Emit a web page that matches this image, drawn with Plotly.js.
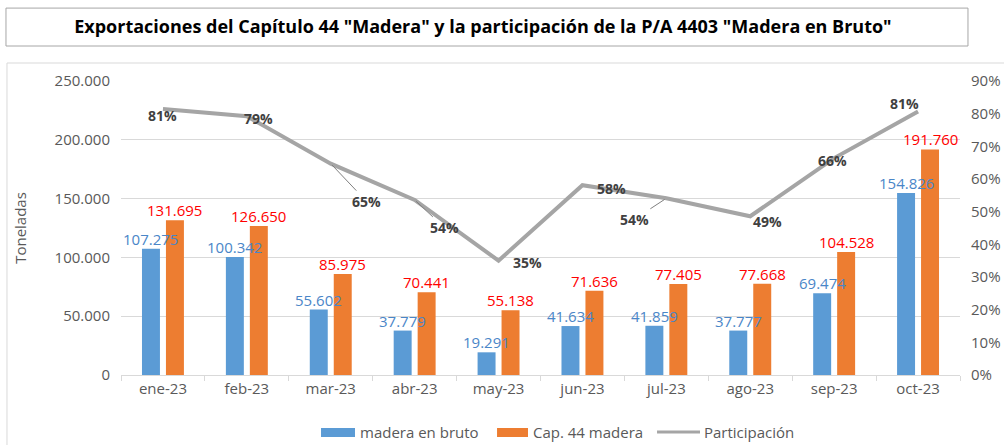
<!DOCTYPE html>
<html>
<head>
<meta charset="utf-8">
<script src="https://cdn.plot.ly/plotly-3.0.1.min.js"></script>
<style>html,body{margin:0;padding:0;background:#fff;}#chart{width:1004px;height:445px;}</style>
</head>
<body>
<div id="chart"></div>
<script>
// ---- data ----
const categories = ['ene-23','feb-23','mar-23','abr-23','may-23','jun-23','jul-23','ago-23','sep-23','oct-23'];
const maderaBruto = [107275, 100342, 55602, 37779, 19291, 41634, 41859, 37777, 69474, 154826];
const cap44 = [131695, 126650, 85975, 70441, 55138, 71636, 77405, 77668, 104528, 191760];
const participacion = [0.814, 0.792, 0.647, 0.536, 0.350, 0.581, 0.541, 0.486, 0.664, 0.807];
const seriesNames = ['madera en bruto', 'Cap. 44 madera', 'Participación'];
const chartTitle = 'Exportaciones del Capítulo 44 "Madera" y la participación de la P/A 4403 "Madera en Bruto"';

// label placement offsets (pixels) for the percentage labels: [dx, dy(down), leader]
const pctOffsets = [[0,6,false],[12,2,false],[36,38,true],[30,28,true],[29,2,false],[29,3,false],[-32,21,true],[17,5,false],[-2,2,false],[-14,-8,false]];

const FONT = 'Open Sans, sans-serif';
const GRAY = '#595959';

function fmtThousands(n) {
  return String(n).replace(/\B(?=(\d{3})+(?!\d))/g, '.');
}

const traces = [
  {
    type: 'bar', name: seriesNames[0], x: categories, y: maderaBruto,
    marker: {color: '#5b9bd5'}, hoverinfo: 'none', showlegend: false
  },
  {
    type: 'bar', name: seriesNames[1], x: categories, y: cap44,
    marker: {color: '#ed7d31'}, hoverinfo: 'none', showlegend: false
  },
  {
    type: 'scatter', mode: 'lines', name: seriesNames[2], x: categories, y: participacion,
    yaxis: 'y2', line: {color: '#a5a5a5', width: 4}, cliponaxis: false, hoverinfo: 'none', showlegend: false
  }
];

const annotations = [];
// bar value labels (drawn above all bars)
maderaBruto.forEach((v, i) => annotations.push({
  xref: 'x', yref: 'y', x: categories[i], y: v, xshift: -12, yshift: -2,
  text: fmtThousands(v), showarrow: false, xanchor: 'center', yanchor: 'bottom',
  font: {family: FONT, size: 15, color: '#4a86c8'}
}));
cap44.forEach((v, i) => annotations.push({
  xref: 'x', yref: 'y', x: categories[i], y: v, xshift: 12, yshift: -2,
  text: fmtThousands(v), showarrow: false, xanchor: 'center', yanchor: 'bottom',
  font: {family: FONT, size: 15, color: '#ff0000'}
}));
// percentage labels
participacion.forEach((v, i) => {
  const [dx, dy, leader] = pctOffsets[i];
  const a = {
    xref: 'x', yref: 'y2', x: categories[i], y: v,
    text: Math.round(v * 100) + '%',
    font: {family: FONT, size: 14, color: '#404040', weight: 'bold'},
    xanchor: 'center', yanchor: 'middle'
  };
  if (leader) {
    a.showarrow = true; a.ax = dx; a.ay = dy; a.arrowhead = 0; a.arrowwidth = 1;
    a.arrowcolor = '#7f7f7f'; a.standoff = 2; a.startstandoff = 0;
  } else {
    a.showarrow = false; a.xshift = dx; a.yshift = -dy;
  }
  annotations.push(a);
});

// custom legend (Excel-style wide swatches)
const legendY = -0.1939;
const legendText = [[0.2825, seriesNames[0]], [0.4887, seriesNames[1]], [0.6925, seriesNames[2]]];
legendText.forEach(([x, t]) => annotations.push({
  xref: 'paper', yref: 'paper', x: x, y: legendY, text: t, showarrow: false,
  xanchor: 'left', yanchor: 'middle', font: {family: FONT, size: 15, color: GRAY}
}));

const layout = {
  width: 1004, height: 445,
  margin: {l: 121, r: 44, t: 81, b: 70},
  paper_bgcolor: '#ffffff', plot_bgcolor: '#ffffff',
  separators: ',.',
  font: {family: FONT, color: GRAY, size: 15},
  title: {
    text: '<b>' + chartTitle + '</b>',
    font: {family: FONT, size: 18, color: '#000000'},
    x: 0.481, xref: 'container', xanchor: 'center',
    y: 0.939, yref: 'container', yanchor: 'middle'
  },
  barmode: 'group', bargap: 0.4286, bargroupgap: 0.25,
  xaxis: {
    type: 'category', showgrid: false, showline: true, linecolor: '#d9d9d9', linewidth: 1,
    ticks: 'outside', tickson: 'boundaries', ticklen: 5, tickcolor: '#d9d9d9',
    tickfont: {size: 15, color: GRAY}, zeroline: false
  },
  yaxis: {
    range: [0, 250000], dtick: 50000, tickformat: ',.0f',
    showgrid: true, gridcolor: '#d9d9d9', gridwidth: 1, zeroline: false,
    showline: false, ticks: '', ticklabelstandoff: 10,
    tickfont: {size: 15, color: GRAY},
    title: {text: 'Toneladas', font: {size: 15, color: GRAY}, standoff: 24}
  },
  yaxis2: {
    overlaying: 'y', side: 'right', range: [0, 0.9], dtick: 0.1, tickformat: '.0%',
    showgrid: false, zeroline: false, showline: false, ticks: '', ticklabelstandoff: 10,
    tickfont: {size: 15, color: GRAY}
  },
  showlegend: false,
  annotations: annotations,
  shapes: [
    {type: 'rect', xref: 'paper', yref: 'paper', x0: -0.1359, x1: 1.07, y0: -0.35, y1: 1.0612,
     line: {color: '#d9d9d9', width: 1}, layer: 'below'},
    {type: 'rect', xref: 'paper', yref: 'paper', x0: -0.1371, x1: 1.0095, y0: 1.119, y1: 1.248,
     line: {color: '#a6a6a6', width: 1}, fillcolor: 'rgba(0,0,0,0)'},
    // legend swatches
    {type: 'rect', xref: 'paper', yref: 'paper', x0: 0.2384, x1: 0.2789, y0: -0.2109, y1: -0.1803,
     fillcolor: '#5b9bd5', line: {width: 0}},
    {type: 'rect', xref: 'paper', yref: 'paper', x0: 0.4482, x1: 0.4851, y0: -0.2109, y1: -0.1803,
     fillcolor: '#ed7d31', line: {width: 0}},
    {type: 'line', xref: 'paper', yref: 'paper', x0: 0.6389, x1: 0.6901, y0: legendY, y1: legendY,
     line: {color: '#a5a5a5', width: 3}}
  ]
};

Plotly.newPlot('chart', traces, layout, {staticPlot: true, displayModeBar: false});
</script>
</body>
</html>
